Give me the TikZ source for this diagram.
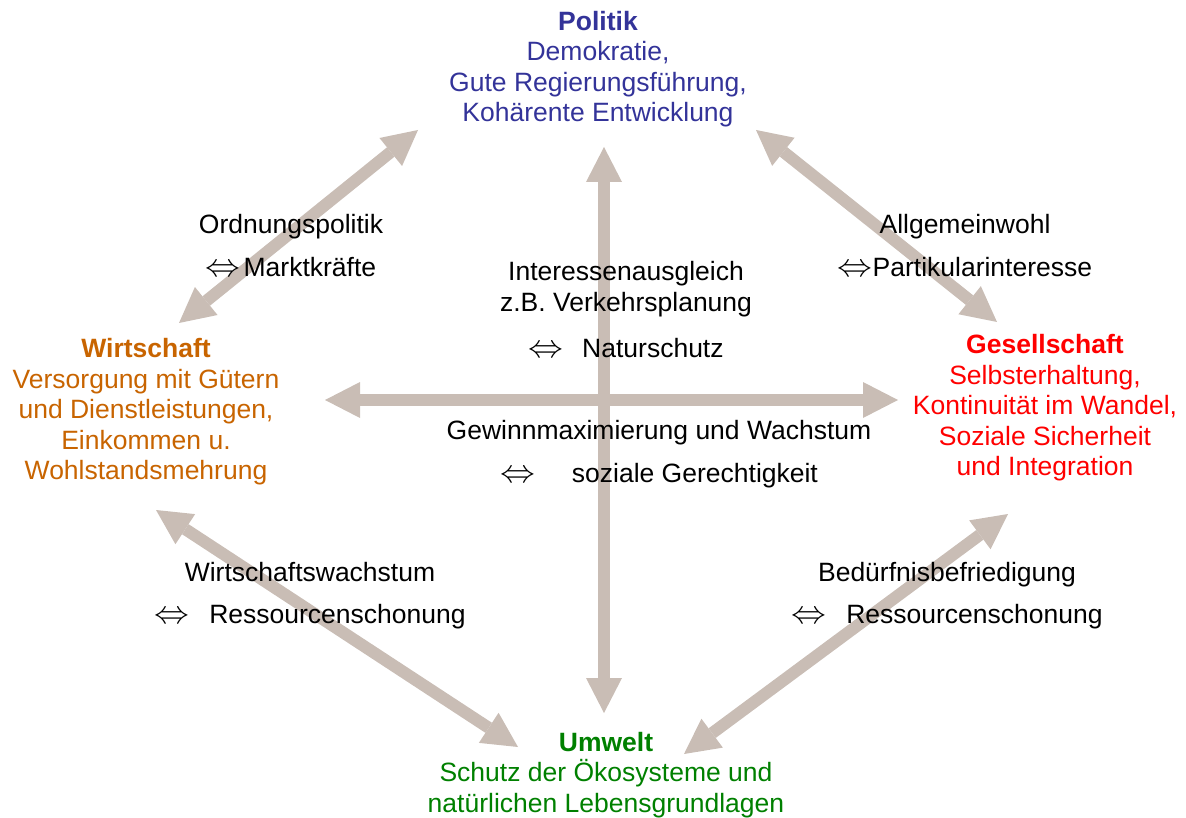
\documentclass[tikz,border=0pt]{standalone}
\usepackage{fontspec}
\setmainfont{Liberation Sans}
\usepackage{tikz}
\usetikzlibrary{arrows.meta}
\definecolor{polblue}{RGB}{51,51,153}
\definecolor{wirorange}{RGB}{200,100,0}
\definecolor{gesred}{RGB}{255,0,0}
\definecolor{umgreen}{RGB}{0,128,0}
\definecolor{pfeilgrau}{RGB}{201,189,181}
\tikzstyle{dbl}=[draw, color=pfeilgrau, line width=12pt, {Triangle[length=35pt,width=36pt,line width=0pt]}-{Triangle[length=35pt,width=36pt,line width=0pt]}]
\tikzstyle{feld}=[align=center, inner sep=0pt, font=\fontsize{26.5}{30.5}\selectfont]
\tikzstyle{spann}=[feld, text=black]
\def\dpf{\scalebox{1.4}[1.3]{$\Leftrightarrow$}}

\begin{document}
\begin{tikzpicture}[x=1pt,y=-1pt]
    \useasboundingbox (0,0) rectangle (1186,818);
    %\draw [help lines, step=100] (0,0) grid (1186,818);
    \coordinate (PWa) at (418,130);
    \coordinate (PWb) at (179,323);
    \coordinate (PGa) at (756,130);
    \coordinate (PGb) at (997,322);
    \coordinate (PUa) at (604,147);
    \coordinate (PUb) at (604,713);
    \coordinate (WGa) at (325,400);
    \coordinate (WGb) at (898,400);
    \coordinate (WUa) at (156,510);
    \coordinate (WUb) at (518,747);
    \coordinate (GUa) at (1008,514);
    \coordinate (GUb) at (684,754);

    \path (PWa) edge [dbl] (PWb)
          (PGa) edge [dbl] (PGb)
          (PUa) edge [dbl] (PUb)
          (WGa) edge [dbl] (WGb)
          (WUa) edge [dbl] (WUb)
          (GUa) edge [dbl] (GUb);

    \node [feld, text=polblue]   (P) at (598,69)  {\textbf{Politik}\\Demokratie,\\Gute Regierungsführung,\\Kohärente Entwicklung};
    \node [feld, text=wirorange] (W) at (146,412) {\textbf{Wirtschaft}\\Versorgung mit Gütern\\und Dienstleistungen,\\Einkommen u.\\Wohlstandsmehrung};
    \node [feld, text=gesred]    (G) at (1045,408) {\textbf{Gesellschaft}\\Selbsterhaltung,\\Kontinuität im Wandel,\\Soziale Sicherheit\\und Integration};
    \node [feld, text=umgreen]   (U) at (606,775) {\textbf{Umwelt}\\Schutz der Ökosysteme und\\natürlichen Lebensgrundlagen};

    \node [spann] (PW) at (291,246) {Ordnungspolitik\\[12.5pt]\dpf\hspace{3pt}Marktkräfte};
    \node [spann] (PG) at (965,246) {Allgemeinwohl\\[12.5pt]\dpf Partikularinteresse};
    \node [spann] (PU) at (626,310) {Interessenausgleich\\z.B. Verkehrsplanung\\[16pt]\dpf\hspace{19pt}Naturschutz};
    \node [spann] (WG) at (659,454) {Gewinnmaximierung und Wachstum\\[12.5pt]\dpf\hspace{37pt}soziale Gerechtigkeit};
    \node [spann] (WU) at (310,596) {Wirtschaftswachstum\\[11.5pt]\dpf\hspace{20pt}Ressourcenschonung};
    \node [spann] (GU) at (947,596) {Bedürfnisbefriedigung\\[11.5pt]\dpf\hspace{20pt}Ressourcenschonung};
\end{tikzpicture}
\end{document}
